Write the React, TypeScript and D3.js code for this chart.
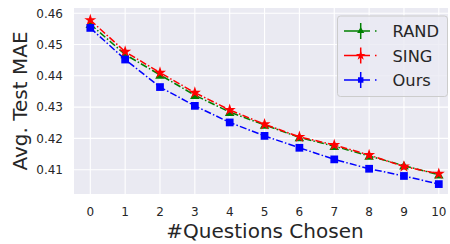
import React from "react";
import * as d3 from "d3";

const questions = [0, 1, 2, 3, 4, 5, 6, 7, 8, 9, 10];
const randMAE = [0.4565, 0.4468, 0.4403, 0.4338, 0.4284, 0.4243, 0.4203, 0.4175, 0.4144, 0.4113, 0.4084];
const singMAE = [0.4578, 0.4477, 0.4410, 0.4346, 0.4291, 0.4245, 0.4205, 0.4179, 0.4147, 0.4110, 0.4087];
const oursMAE = [0.4553, 0.4452, 0.4364, 0.4304, 0.4251, 0.4208, 0.4170, 0.4133, 0.4103, 0.4080, 0.4054];
const randErr = [0.0008, 0.0006, 0.0006, 0.0005, 0.0005, 0.0005, 0.0004, 0.0004, 0.0004, 0.0004, 0.0004];
const singErr = [0.0008, 0.0006, 0.0006, 0.0005, 0.0005, 0.0005, 0.0004, 0.0004, 0.0004, 0.0004, 0.0004];
const oursErr = [0.0006, 0.0005, 0.0005, 0.0004, 0.0004, 0.0004, 0.0004, 0.0004, 0.0004, 0.0004, 0.0004];
const yTicks = [0.41, 0.42, 0.43, 0.44, 0.45, 0.46];
const seriesNames = ["RAND", "SING", "Ours"];
const seriesColors = ["#008000", "#ff0000", "#0000ff"];

const W = 450, H = 244;
const plot = { left: 74, right: 448, top: 8, bottom: 194 };
const FONT = "DejaVu Sans, sans-serif";
const TXT = "#262626";

export default function App() {
  const x = d3.scaleLinear().domain([0, 10]).range([90.3, 438.8]);
  const y = d3.scaleLinear().domain([0.41, 0.46]).range([169.7, 13.2]);
  const series = [randMAE, singMAE, oursMAE];
  const errs = [randErr, singErr, oursErr];
  const symbols = [d3.symbolTriangle, d3.symbolStar, d3.symbolSquare];
  const sizes = [40, 45, 60];
  const legendSizes = [22, 30, 30];
  const line = d3.line<number>().x((_, i) => x(questions[i])).y((v) => y(v));
  const dash = "7,2.2,1.5,2.2";

  return (
    <svg width={W} height={H} style={{ position: "absolute", left: 0, top: 0 }} fontFamily={FONT}>
      <rect x={0} y={0} width={W} height={H} fill="#ffffff" />
      <rect x={plot.left} y={plot.top} width={plot.right - plot.left} height={plot.bottom - plot.top} fill="#eaeaf2" />
      {questions.map((q) => (
        <line key={"gx" + q} x1={x(q)} x2={x(q)} y1={plot.top} y2={plot.bottom} stroke="#ffffff" strokeWidth={1.1} />
      ))}
      {yTicks.map((t) => (
        <line key={"gy" + t} x1={plot.left} x2={plot.right} y1={y(t)} y2={y(t)} stroke="#ffffff" strokeWidth={1.1} />
      ))}
      {series.map((s, si) => (
        <g key={"s" + si}>
          {s.map((v, i) => (
            <line key={"e" + i} x1={x(questions[i])} x2={x(questions[i])} y1={y(v - errs[si][i])} y2={y(v + errs[si][i])} stroke={seriesColors[si]} strokeWidth={1.5} />
          ))}
          <path d={line(s) || ""} fill="none" stroke={seriesColors[si]} strokeWidth={1.5} strokeDasharray={dash} />
          {s.map((v, i) => (
            <path key={"m" + i} d={d3.symbol().type(symbols[si]).size(sizes[si])() || ""} transform={`translate(${x(questions[i])},${y(v) + (si === 0 ? 1 : 0)})`} fill={seriesColors[si]} />
          ))}
        </g>
      ))}
      {questions.map((q) => (
        <text key={"tx" + q} x={x(q)} y={216} fontSize={12} fill={TXT} textAnchor="middle">{q}</text>
      ))}
      {yTicks.map((t) => (
        <text key={"ty" + t} x={63} y={y(t) + 4.3} fontSize={12} fill={TXT} textAnchor="end">{t.toFixed(2)}</text>
      ))}
      <text x={(plot.left + plot.right) / 2 + 4} y={238} fontSize={20} fill={TXT} textAnchor="middle">#Questions Chosen</text>
      <text transform={`translate(26.5,${(plot.top + plot.bottom) / 2}) rotate(-90)`} fontSize={20} fill={TXT} textAnchor="middle">Avg. Test MAE</text>
      <g>
        <rect x={337.5} y={16} width={110} height={80.5} rx={3} fill="#eaeaf2" fillOpacity={0.8} stroke="#cccccc" strokeWidth={1} />
        {seriesNames.map((n, i) => {
          const ly = 31 + i * 24.5;
          return (
            <g key={"l" + n}>
              <line x1={344} x2={377.5} y1={ly} y2={ly} stroke={seriesColors[i]} strokeWidth={1.5} strokeDasharray="26,5,1.5,30" />
              <line x1={360.7} x2={360.7} y1={ly - 8} y2={ly + 8} stroke={seriesColors[i]} strokeWidth={1.5} />
              <path d={d3.symbol().type(symbols[i]).size(legendSizes[i])() || ""} transform={`translate(360.7,${ly})`} fill={seriesColors[i]} />
              <text x={392.5} y={ly + 6} fontSize={16.3} fill={TXT}>{n}</text>
            </g>
          );
        })}
      </g>
    </svg>
  );
}
